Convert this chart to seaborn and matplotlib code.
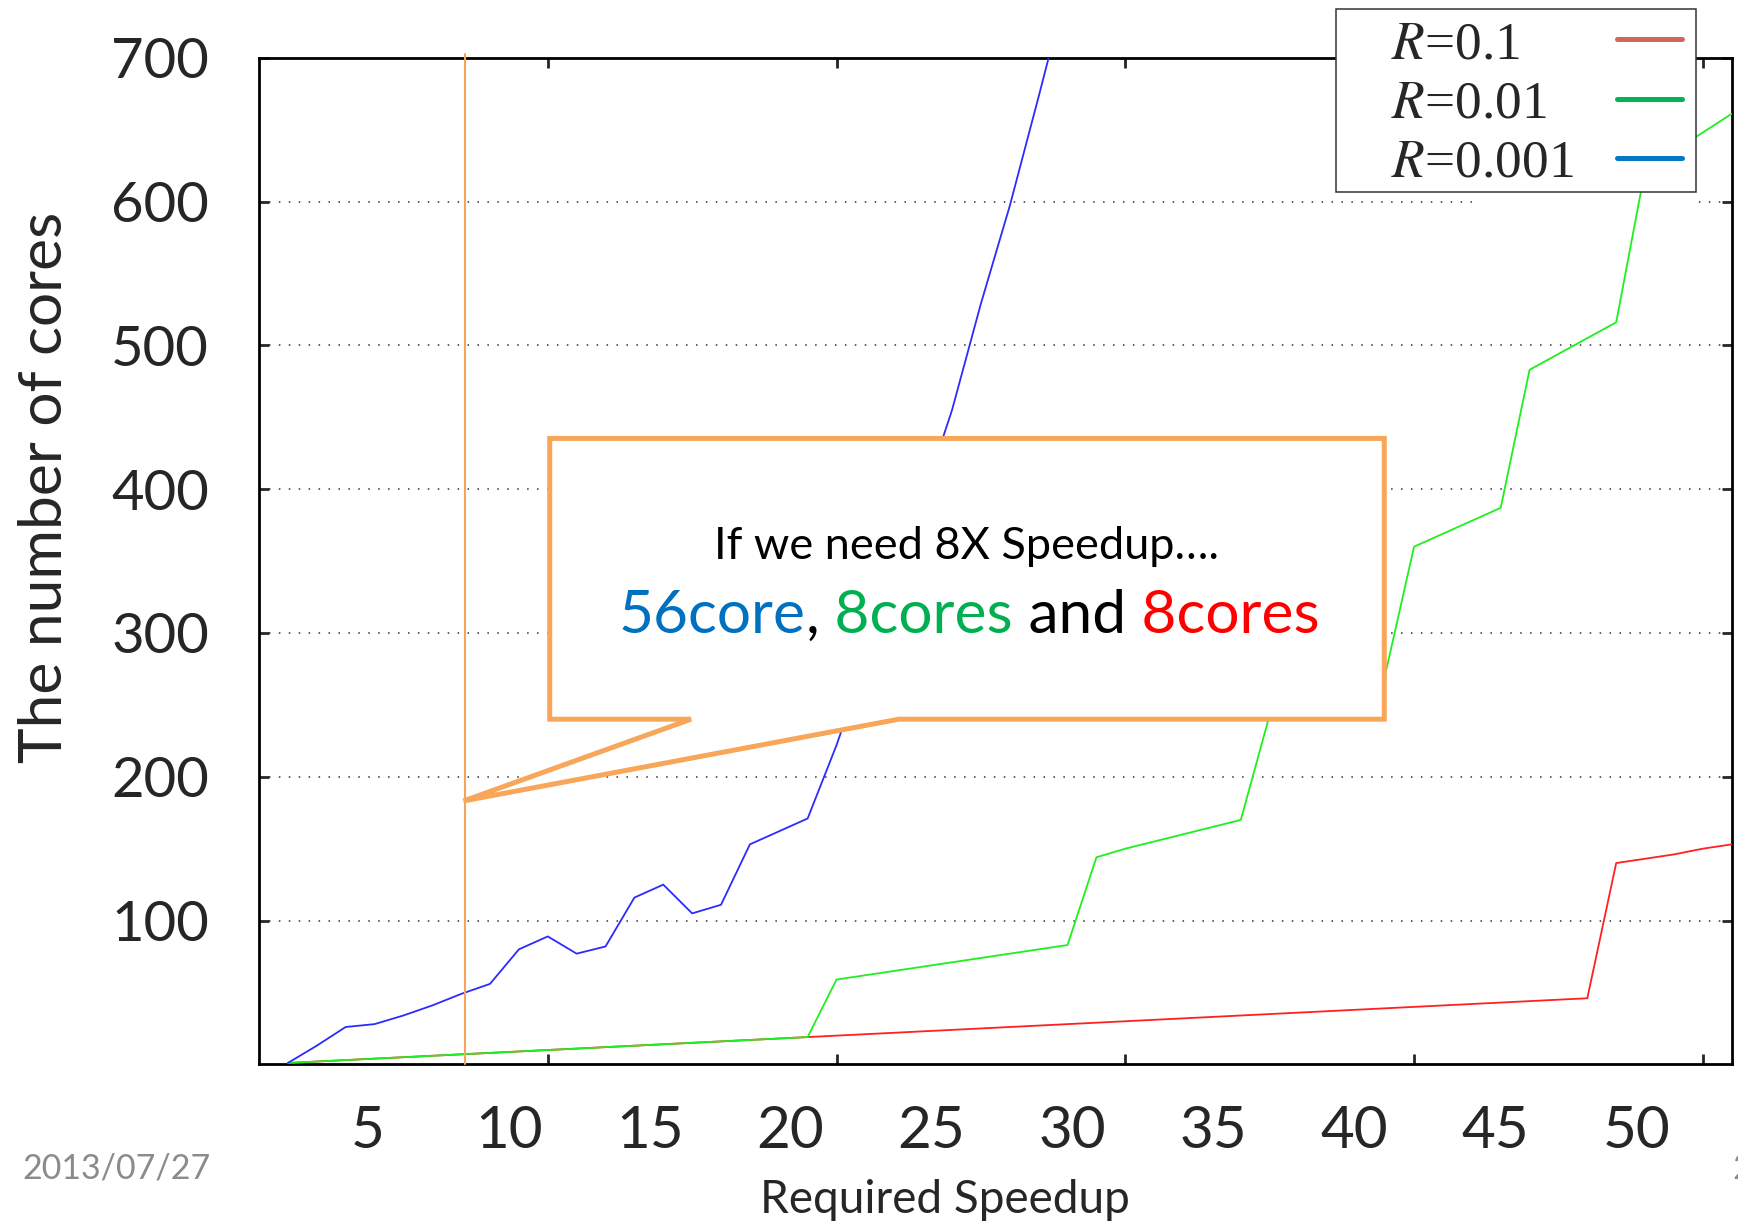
import matplotlib
matplotlib.use("Agg")
import matplotlib.pyplot as plt
import seaborn as sns
import pandas as pd
from matplotlib.patches import Polygon, Rectangle
from matplotlib.lines import Line2D
from matplotlib.offsetbox import TextArea, HPacker, AnnotationBbox

# gnuplot 결과: 필요한 speedup 별 core 수
speedup_r1 = [1, 2, 3, 4, 5, 6, 7, 8, 9, 10, 11, 12, 13, 14, 15, 16, 17, 18, 19, 20,
              21, 22, 23, 24, 25, 26, 27, 28, 29, 30, 31, 32, 33, 34, 35, 36, 37, 38, 39, 40,
              41, 42, 43, 44, 45, 46, 47, 48, 49, 50, 51]
cores_r1 = [1, 2, 3, 4, 5, 6, 7, 8, 9, 10, 11, 12, 13, 14, 15, 16, 17, 18, 19, 20,
            21, 22, 23, 24, 25, 26, 27, 28, 29, 30, 31, 32, 33, 34, 35, 36, 37, 38, 39, 40,
            41, 42, 43, 44, 45, 46, 140, 143, 146, 150, 153]

speedup_r01 = [1, 2, 3, 4, 5, 6, 7, 8, 9, 10, 11, 12, 13, 14, 15, 16, 17, 18, 19, 20,
               21, 22, 23, 24, 25, 26, 27, 28, 29, 30, 31, 32, 33, 34, 35, 36, 37, 38, 39, 40,
               41, 42, 43, 44, 45, 46, 47, 48, 49, 50, 51]
cores_r01 = [1, 2, 3, 4, 5, 6, 7, 8, 9, 10, 11, 12, 13, 14, 15, 16, 17, 18, 19,
             59, 62, 65, 68, 71, 74, 77, 80, 83,
             144, 150, 155, 160, 165, 170,
             243, 250, 257, 264, 271,
             360, 369, 378, 387,
             483, 494, 505, 516,
             622, 635, 648, 661]

speedup_r001 = [1, 2, 3, 4, 5, 6, 7, 8, 9, 10, 11, 12, 13, 14, 15, 16, 17, 18, 19, 20,
                21, 22, 23, 24, 25, 26, 27, 28]
cores_r001 = [1, 13, 26, 28, 34, 41, 49, 56, 80, 89, 77, 82, 116, 125, 105, 111, 153, 162,
              171, 222, 280, 337, 394, 455, 529, 597, 673, 751]

r_values = ["0.1", "0.01", "0.001"]
legend_labels = ["$R$=0.1", "$R$=0.01", "$R$=0.001"]
line_colors = ["#FF2020", "#1EF01E", "#2B2BFF"]
legend_colors = ["#D0665C", "#00B455", "#0478C4"]

x_ticks = [10, 20, 30, 40, 50]
y_ticks = [100, 200, 300, 400, 500, 600, 700]
speedup_labels = [5, 10, 15, 20, 25, 30, 35, 40, 45, 50]
marked_speedup = 7.15

ORANGE = "#F8A65A"
W, H = 1738, 1222


def to_label(x):
    return (x + 1.11) / 0.976


def to_gnu(v):
    return v * 0.976 - 1.11


sns.set_style("white")
plt.rcParams['font.family'] = ['Lato', 'DejaVu Sans']
plt.rcParams['mathtext.fontset'] = 'stix'

fig = plt.figure(figsize=(W / 100, H / 100), dpi=100)
ax = fig.add_axes([259 / W, 1 - 1064.4 / H, 1472.7 / W, 1006.7 / H])

df = pd.concat([
    pd.DataFrame({"speedup": speedup_r1, "cores": cores_r1, "R": "0.1"}),
    pd.DataFrame({"speedup": speedup_r01, "cores": cores_r01, "R": "0.01"}),
    pd.DataFrame({"speedup": speedup_r001, "cores": cores_r001, "R": "0.001"}),
], ignore_index=True)

sns.lineplot(data=df, x="speedup", y="cores", hue="R", hue_order=r_values,
             palette=dict(zip(r_values, line_colors)), estimator=None, sort=False,
             legend=False, linewidth=1.3, ax=ax, zorder=3)

ax.set_xlim(0, 51)
ax.set_ylim(0, 700)
ax.set_xticks(x_ticks)
ax.set_yticks(y_ticks)
ax.set_xlabel("")
ax.set_ylabel("")
ax.tick_params(axis="x", direction="in", length=7, width=2, top=True, bottom=True,
               labelbottom=False)
ax.tick_params(axis="y", direction="in", length=7, width=2, left=True, right=True,
               labelsize=40.5, pad=36)
for s in ax.spines.values():
    s.set_linewidth(2.0)
    s.set_color("black")
ax.yaxis.grid(True, linestyle=(0, (1, 5.5)), linewidth=1.1, color="#333333")
ax.set_axisbelow(True)

# gnuplot key 자리 (격자 끊김)
ax.add_patch(Rectangle((0.827, 0.8487), 0.1501, 0.16, transform=ax.transAxes,
                       fc="white", ec="none", zorder=1))

# 슬라이드에 덧붙인 x 라벨
sec = ax.secondary_xaxis("bottom", functions=(to_label, to_gnu))
sec.set_xticks(speedup_labels)
sec.tick_params(length=0, pad=29, labelsize=42)
sec.spines["bottom"].set_visible(False)

# 8X 표시선 + 말풍선
ax.axvline(marked_speedup, ymin=0, ymax=1.004, color="#F6A35C", lw=1.5, zorder=4,
           clip_on=False)
callout = [(0.1974, 0.3429), (0.1974, 0.6218), (0.7641, 0.6218), (0.7641, 0.3429),
           (0.4344, 0.3429), (0.1389, 0.2617), (0.2933, 0.3429)]
ax.add_patch(Polygon(callout, closed=True, transform=ax.transAxes, fc="white",
                     ec=ORANGE, lw=3.6, joinstyle="miter", zorder=5, clip_on=False))
ax.text(0.4806, 0.5017, "If we need 8X Speedup\u2026.", transform=ax.transAxes,
        ha="center", va="baseline", fontsize=32.5, color="black", zorder=6)
parts = [("56core", "#0070C0"), (",", "black"), (" 8cores", "#00B050"),
         (" and", "black"), (" 8cores", "#FF0000")]
pack = HPacker(children=[TextArea(t, textprops=dict(color=c, fontsize=43.5))
                         for t, c in parts], sep=0, pad=0, align="baseline")
ab = AnnotationBbox(pack, (0.482, 0.4457), xycoords="axes fraction",
                    box_alignment=(0.5, 0.5), frameon=False, pad=0)
ab.set_zorder(6)
ax.add_artist(ab)

# 범례 (오른쪽 위, 틀은 따로)
fig.add_artist(Rectangle((1335.6 / W, 1 - 191.8 / H), 360.3 / W, 182.9 / H,
                         transform=fig.transFigure, fc="white", ec="#333333",
                         lw=1.1, zorder=5.5))
handles = [Line2D([], [], color=c, lw=3.6) for c in legend_colors]
leg = fig.legend(handles, legend_labels, loc="center left",
                 bbox_to_anchor=(1391 / W, 1 - 104 / H), frameon=False,
                 markerfirst=False, borderpad=0, borderaxespad=0,
                 handlelength=1.23, handletextpad=0.8, labelspacing=0.2,
                 prop={"family": "Liberation Serif", "size": 38.5})
leg.set_zorder(6)

fig.text(61.7 / W, 1 - 487.7 / H, "The number of cores", rotation=90,
         rotation_mode="anchor", ha="center", va="baseline", fontsize=43.5)
fig.text(944.5 / W, 1 - 1212.7 / H, "Required Speedup", ha="center", va="baseline",
         fontsize=33)
fig.text(22 / W, 1 - 1169 / H, "2013/07/27", ha="left", va="center", fontsize=24.5,
         color="#8B8B8B")
fig.text(1732 / W, 1 - 1169 / H, "2", ha="left", va="center", fontsize=24.5,
         color="#8B8B8B")

# 범례 글자는 왼쪽 정렬, 선은 오른쪽 정렬
fig.canvas.draw()
renderer = fig.canvas.get_renderer()
text_w = [t.get_window_extent(renderer).width for t in leg.get_texts()]
column = leg._legend_handle_box.get_children()[0]
column.align = "left"
for item, w in zip(column.get_children(), text_w):
    item.sep = 0.8 * 38.5 + (max(text_w) - w) * 72 / fig.dpi

fig.savefig("out.png", dpi=100)
